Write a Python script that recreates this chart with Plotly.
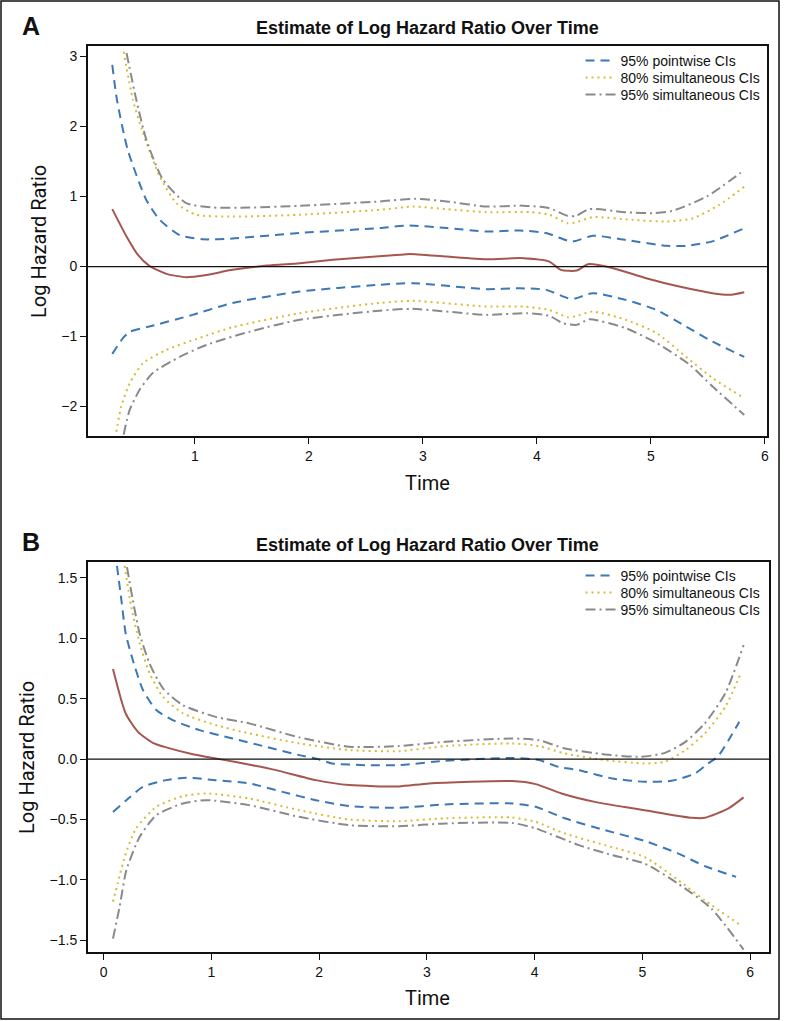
import plotly.graph_objects as go

# ---------------- Panel A data ----------------
a_est_t = [0.275, 0.40, 0.50, 0.60, 0.75, 0.925, 1.10, 1.33, 1.63, 1.92, 2.21, 2.50, 2.80, 2.88, 3.21, 3.56, 3.88, 4.11, 4.21, 4.35, 4.45, 4.67, 4.96, 5.25, 5.54, 5.69, 5.82]
a_est_v = [0.82, 0.43, 0.167, 0.01, -0.104, -0.151, -0.119, -0.047, 0.014, 0.048, 0.096, 0.134, 0.167, 0.181, 0.143, 0.106, 0.12, 0.071, -0.047, -0.057, 0.034, -0.023, -0.166, -0.286, -0.38, -0.404, -0.366]

a_pw_up_t = [0.275, 0.316, 0.41, 0.574, 0.69, 0.866, 1.07, 1.33, 1.92, 2.62, 2.88, 3.21, 3.56, 3.85, 4.08, 4.29, 4.34, 4.49, 4.78, 5.14, 5.31, 5.54, 5.81]
a_pw_up_v = [2.88, 2.38, 1.67, 0.95, 0.67, 0.45, 0.39, 0.40, 0.48, 0.55, 0.586, 0.55, 0.50, 0.514, 0.48, 0.36, 0.365, 0.44, 0.38, 0.296, 0.296, 0.36, 0.54]
a_pw_lo_t = [0.275, 0.37, 0.43, 0.60, 0.98, 1.33, 1.92, 2.62, 2.91, 3.56, 3.85, 4.08, 4.29, 4.34, 4.49, 4.78, 5.05, 5.31, 5.54, 5.82]
a_pw_lo_v = [-1.247, -1.02, -0.93, -0.857, -0.69, -0.52, -0.357, -0.26, -0.237, -0.323, -0.31, -0.333, -0.46, -0.455, -0.38, -0.476, -0.62, -0.857, -1.07, -1.29]

a_s80_up_t = [0.375, 0.456, 0.544, 0.69, 0.837, 1.01, 1.33, 1.92, 2.62, 2.91, 3.21, 3.56, 3.94, 4.11, 4.27, 4.34, 4.49, 4.84, 5.14, 5.37, 5.60, 5.82]
a_s80_up_v = [3.07, 2.38, 1.91, 1.29, 0.906, 0.74, 0.714, 0.74, 0.81, 0.857, 0.82, 0.777, 0.777, 0.74, 0.62, 0.63, 0.705, 0.667, 0.643, 0.69, 0.88, 1.14]
a_s80_lo_t = [0.31, 0.354, 0.427, 0.544, 0.75, 1.04, 1.33, 1.92, 2.62, 2.91, 3.56, 3.88, 4.11, 4.27, 4.34, 4.49, 4.78, 5.05, 5.31, 5.54, 5.81]
a_s80_lo_v = [-2.36, -2.0, -1.67, -1.38, -1.19, -1.02, -0.866, -0.666, -0.52, -0.49, -0.571, -0.571, -0.62, -0.723, -0.71, -0.643, -0.76, -0.95, -1.29, -1.59, -1.87]

a_s95_up_t = [0.40, 0.486, 0.574, 0.72, 0.925, 1.16, 1.48, 1.92, 2.62, 2.94, 3.21, 3.56, 3.88, 4.11, 4.27, 4.34, 4.46, 4.78, 5.02, 5.19, 5.49, 5.79]
a_s95_up_v = [3.05, 2.38, 1.81, 1.24, 0.906, 0.843, 0.843, 0.867, 0.93, 0.967, 0.93, 0.857, 0.87, 0.834, 0.724, 0.72, 0.82, 0.777, 0.763, 0.796, 1.0, 1.34]
a_s95_lo_t = [0.375, 0.427, 0.515, 0.63, 0.866, 1.10, 1.48, 1.92, 2.62, 2.91, 3.56, 3.91, 4.11, 4.23, 4.35, 4.46, 4.78, 5.05, 5.34, 5.54, 5.82]
a_s95_lo_v = [-2.40, -2.05, -1.76, -1.52, -1.29, -1.12, -0.93, -0.76, -0.63, -0.604, -0.69, -0.666, -0.704, -0.81, -0.833, -0.752, -0.88, -1.09, -1.40, -1.71, -2.12]

# ---------------- Panel B data ----------------
b_est_t = [0.086, 0.204, 0.318, 0.456, 0.58, 0.827, 1.074, 1.38, 1.60, 1.97, 2.28, 2.74, 3.02, 3.79, 4.01, 4.25, 4.56, 5.02, 5.46, 5.58, 5.80, 5.94]
b_est_v = [0.746, 0.378, 0.226, 0.135, 0.097, 0.041, 0.0, -0.05, -0.091, -0.174, -0.215, -0.226, -0.201, -0.182, -0.207, -0.284, -0.354, -0.423, -0.486, -0.486, -0.408, -0.317]

b_pw_up_t = [0.123, 0.164, 0.204, 0.27, 0.364, 0.488, 0.64, 0.889, 1.197, 1.506, 1.815, 2.0, 2.12, 2.43, 2.74, 3.17, 3.79, 4.04, 4.22, 4.41, 4.72, 5.02, 5.27, 5.49, 5.61, 5.70, 5.80, 5.90]
b_pw_up_v = [1.60, 1.317, 1.04, 0.82, 0.572, 0.406, 0.323, 0.24, 0.171, 0.102, 0.033, -0.003, -0.036, -0.05, -0.05, -0.014, 0.01, -0.008, -0.064, -0.091, -0.16, -0.188, -0.18, -0.119, -0.036, 0.02, 0.157, 0.31]
b_pw_lo_t = [0.086, 0.21, 0.364, 0.58, 0.766, 1.04, 1.35, 1.66, 1.97, 2.28, 2.74, 3.17, 3.79, 4.01, 4.28, 4.65, 5.02, 5.33, 5.58, 5.87]
b_pw_lo_v = [-0.437, -0.34, -0.229, -0.174, -0.155, -0.174, -0.201, -0.271, -0.34, -0.389, -0.403, -0.375, -0.367, -0.395, -0.49, -0.588, -0.677, -0.78, -0.886, -0.975]

b_s80_up_t = [0.194, 0.256, 0.333, 0.426, 0.55, 0.734, 1.04, 1.35, 1.815, 2.28, 2.74, 3.17, 3.79, 4.04, 4.28, 4.65, 5.02, 5.21, 5.40, 5.58, 5.77, 5.92]
b_s80_up_v = [1.60, 1.26, 0.96, 0.71, 0.516, 0.379, 0.282, 0.213, 0.13, 0.075, 0.066, 0.108, 0.13, 0.108, 0.047, -0.008, -0.036, -0.022, 0.075, 0.213, 0.433, 0.723]
b_s80_lo_t = [0.086, 0.13, 0.194, 0.30, 0.488, 0.734, 0.95, 1.35, 1.815, 2.28, 2.74, 3.17, 3.79, 4.01, 4.28, 4.65, 5.02, 5.33, 5.58, 5.92]
b_s80_lo_v = [-1.18, -1.03, -0.81, -0.574, -0.395, -0.307, -0.284, -0.326, -0.423, -0.50, -0.514, -0.49, -0.483, -0.52, -0.616, -0.712, -0.81, -1.0, -1.17, -1.38]

b_s95_up_t = [0.216, 0.27, 0.333, 0.426, 0.55, 0.734, 1.04, 1.35, 1.815, 2.28, 2.74, 3.17, 3.79, 4.04, 4.28, 4.65, 4.99, 5.21, 5.40, 5.58, 5.77, 5.94]
b_s95_up_v = [1.59, 1.317, 1.04, 0.79, 0.586, 0.447, 0.35, 0.296, 0.18, 0.102, 0.108, 0.143, 0.171, 0.157, 0.088, 0.039, 0.019, 0.052, 0.143, 0.296, 0.544, 0.944]
b_s95_lo_t = [0.086, 0.148, 0.21, 0.333, 0.488, 0.734, 0.95, 1.35, 1.815, 2.28, 2.74, 3.17, 3.79, 4.01, 4.41, 4.72, 5.02, 5.33, 5.64, 5.94]
b_s95_lo_v = [-1.486, -1.22, -0.92, -0.644, -0.464, -0.367, -0.34, -0.381, -0.478, -0.547, -0.555, -0.533, -0.528, -0.574, -0.712, -0.795, -0.864, -1.03, -1.237, -1.577]

# ---------------- labels ----------------
title_text = "Estimate of Log Hazard Ratio Over Time"
y_title = "Log Hazard Ratio"
x_title = "Time"
band_names = ["95% pointwise CIs", "80% simultaneous CIs", "95% simultaneous CIs"]
a_yticks = [-2, -1, 0, 1, 2, 3]
b_yticks = [-1.5, -1.0, -0.5, 0.0, 0.5, 1.0, 1.5]
a_xticks = [1, 2, 3, 4, 5, 6]
b_xticks = [0, 1, 2, 3, 4, 5, 6]

# ---------------- styles ----------------
C_EST = "#a5574f"
C_PW = "#3b78b5"
C_S80 = "#d6bd35"
C_S95 = "#8a8a8a"
DASH_PW = "9px,6px"
DASH_S80 = "2px,4px"
DASH_S95 = "10px,4px,2px,4px"
FONT = "Liberation Sans, Arial, sans-serif"
FONT_COND = "Liberation Sans Narrow, Roboto, Arial, sans-serif"

W, H = 785, 1021

def px_x(p):
    return p / W

def px_y(p):
    return 1 - p / H

fig = go.Figure()

def add_panel(xa, ya, legs, est, bands):
    for (t, v, k, color, dash, show) in bands:
        fig.add_trace(go.Scatter(
            x=t, y=v, mode="lines", name=band_names[k], legend=legs[k], showlegend=show,
            line=dict(color=color, width=2, dash=dash, shape="spline", smoothing=0.6),
            xaxis=xa, yaxis=ya, hoverinfo="skip"))
    fig.add_trace(go.Scatter(
        x=est[0], y=est[1], mode="lines", showlegend=False,
        line=dict(color=C_EST, width=2, shape="spline", smoothing=0.6),
        xaxis=xa, yaxis=ya, hoverinfo="skip"))

add_panel("x", "y", ["legend", "legend2", "legend3"], (a_est_t, a_est_v), [
    (a_pw_up_t, a_pw_up_v, 0, C_PW, DASH_PW, True),
    (a_s80_up_t, a_s80_up_v, 1, C_S80, DASH_S80, True),
    (a_s95_up_t, a_s95_up_v, 2, C_S95, DASH_S95, True),
    (a_pw_lo_t, a_pw_lo_v, 0, C_PW, DASH_PW, False),
    (a_s80_lo_t, a_s80_lo_v, 1, C_S80, DASH_S80, False),
    (a_s95_lo_t, a_s95_lo_v, 2, C_S95, DASH_S95, False),
])
add_panel("x2", "y2", ["legend4", "legend5", "legend6"], (b_est_t, b_est_v), [
    (b_pw_up_t, b_pw_up_v, 0, C_PW, DASH_PW, True),
    (b_s80_up_t, b_s80_up_v, 1, C_S80, DASH_S80, True),
    (b_s95_up_t, b_s95_up_v, 2, C_S95, DASH_S95, True),
    (b_pw_lo_t, b_pw_lo_v, 0, C_PW, DASH_PW, False),
    (b_s80_lo_t, b_s80_lo_v, 1, C_S80, DASH_S80, False),
    (b_s95_lo_t, b_s95_lo_v, 2, C_S95, DASH_S95, False),
])

axis_common = dict(showline=True, mirror=True, linecolor="#111", linewidth=1.5,
                   ticks="outside", ticklen=6, tickwidth=1.2, tickcolor="#111",
                   showgrid=False, zeroline=False,
                   tickfont=dict(family=FONT, size=14, color="#111"))

def leg(ypx):
    return dict(x=px_x(582), xanchor="left", y=px_y(ypx), yanchor="middle",
                bgcolor="rgba(0,0,0,0)", font=dict(family=FONT, size=14, color="#111"),
                itemwidth=30)

fig.update_layout(
    width=W, height=H, margin=dict(l=0, r=0, t=0, b=0),
    paper_bgcolor="white", plot_bgcolor="white",
    xaxis=dict(domain=[px_x(88), px_x(769)], range=[0.06, 6.02], tickvals=a_xticks,
               anchor="y", **axis_common),
    yaxis=dict(domain=[px_y(436), px_y(46)], range=[-2.42, 3.15], tickvals=a_yticks,
               anchor="x", **axis_common),
    xaxis2=dict(domain=[px_x(88), px_x(771)], range=[-0.148, 6.176], tickvals=b_xticks,
                anchor="y2", **axis_common),
    yaxis2=dict(domain=[px_y(952), px_y(562)], range=[-1.597, 1.632], tickvals=b_yticks,
                tickformat=".1f", anchor="x2", **axis_common),
    legend=leg(61), legend2=leg(78), legend3=leg(95),
    legend4=leg(576), legend5=leg(593), legend6=leg(610),
    showlegend=True,
)

# zero reference lines
for xr, yr in (("x domain", "y"), ("x2 domain", "y2")):
    fig.add_shape(type="line", xref=xr, yref=yr, x0=0, x1=1, y0=0, y1=0,
                  line=dict(color="#111", width=1.2))

# outer frame
fig.add_shape(type="rect", xref="paper", yref="paper",
              x0=px_x(1), x1=px_x(781), y0=px_y(1019), y1=px_y(1),
              line=dict(color="#111", width=1.5))

ann = []
for letter, ly, ty, xty, yty, yx in (("A", 26.5, 28, 483, 241, 39), ("B", 542, 545, 998, 757, 27)):
    ann.append(dict(text="<b>%s</b>" % letter, x=px_x(31), y=px_y(ly), xref="paper", yref="paper",
                    showarrow=False, font=dict(family=FONT, size=25, color="#111"),
                    xanchor="center", yanchor="middle"))
    ann.append(dict(text="<b>%s</b>" % title_text, x=px_x(429), y=px_y(ty), xref="paper", yref="paper",
                    showarrow=False, font=dict(family=FONT, size=18, color="#111"),
                    xanchor="center", yanchor="middle"))
    ann.append(dict(text=x_title, x=px_x(429), y=px_y(xty), xref="paper", yref="paper",
                    showarrow=False, font=dict(family=FONT_COND, size=20, color="#111"),
                    xanchor="center", yanchor="middle"))
    ann.append(dict(text=y_title, x=px_x(yx), y=px_y(yty), xref="paper", yref="paper",
                    showarrow=False, textangle=-90, font=dict(family=FONT_COND, size=20, color="#111"),
                    xanchor="center", yanchor="middle"))
fig.update_layout(annotations=ann)

fig.write_html("out.html", config={"displayModeBar": False},
               post_script="document.body.style.margin='0px';")
